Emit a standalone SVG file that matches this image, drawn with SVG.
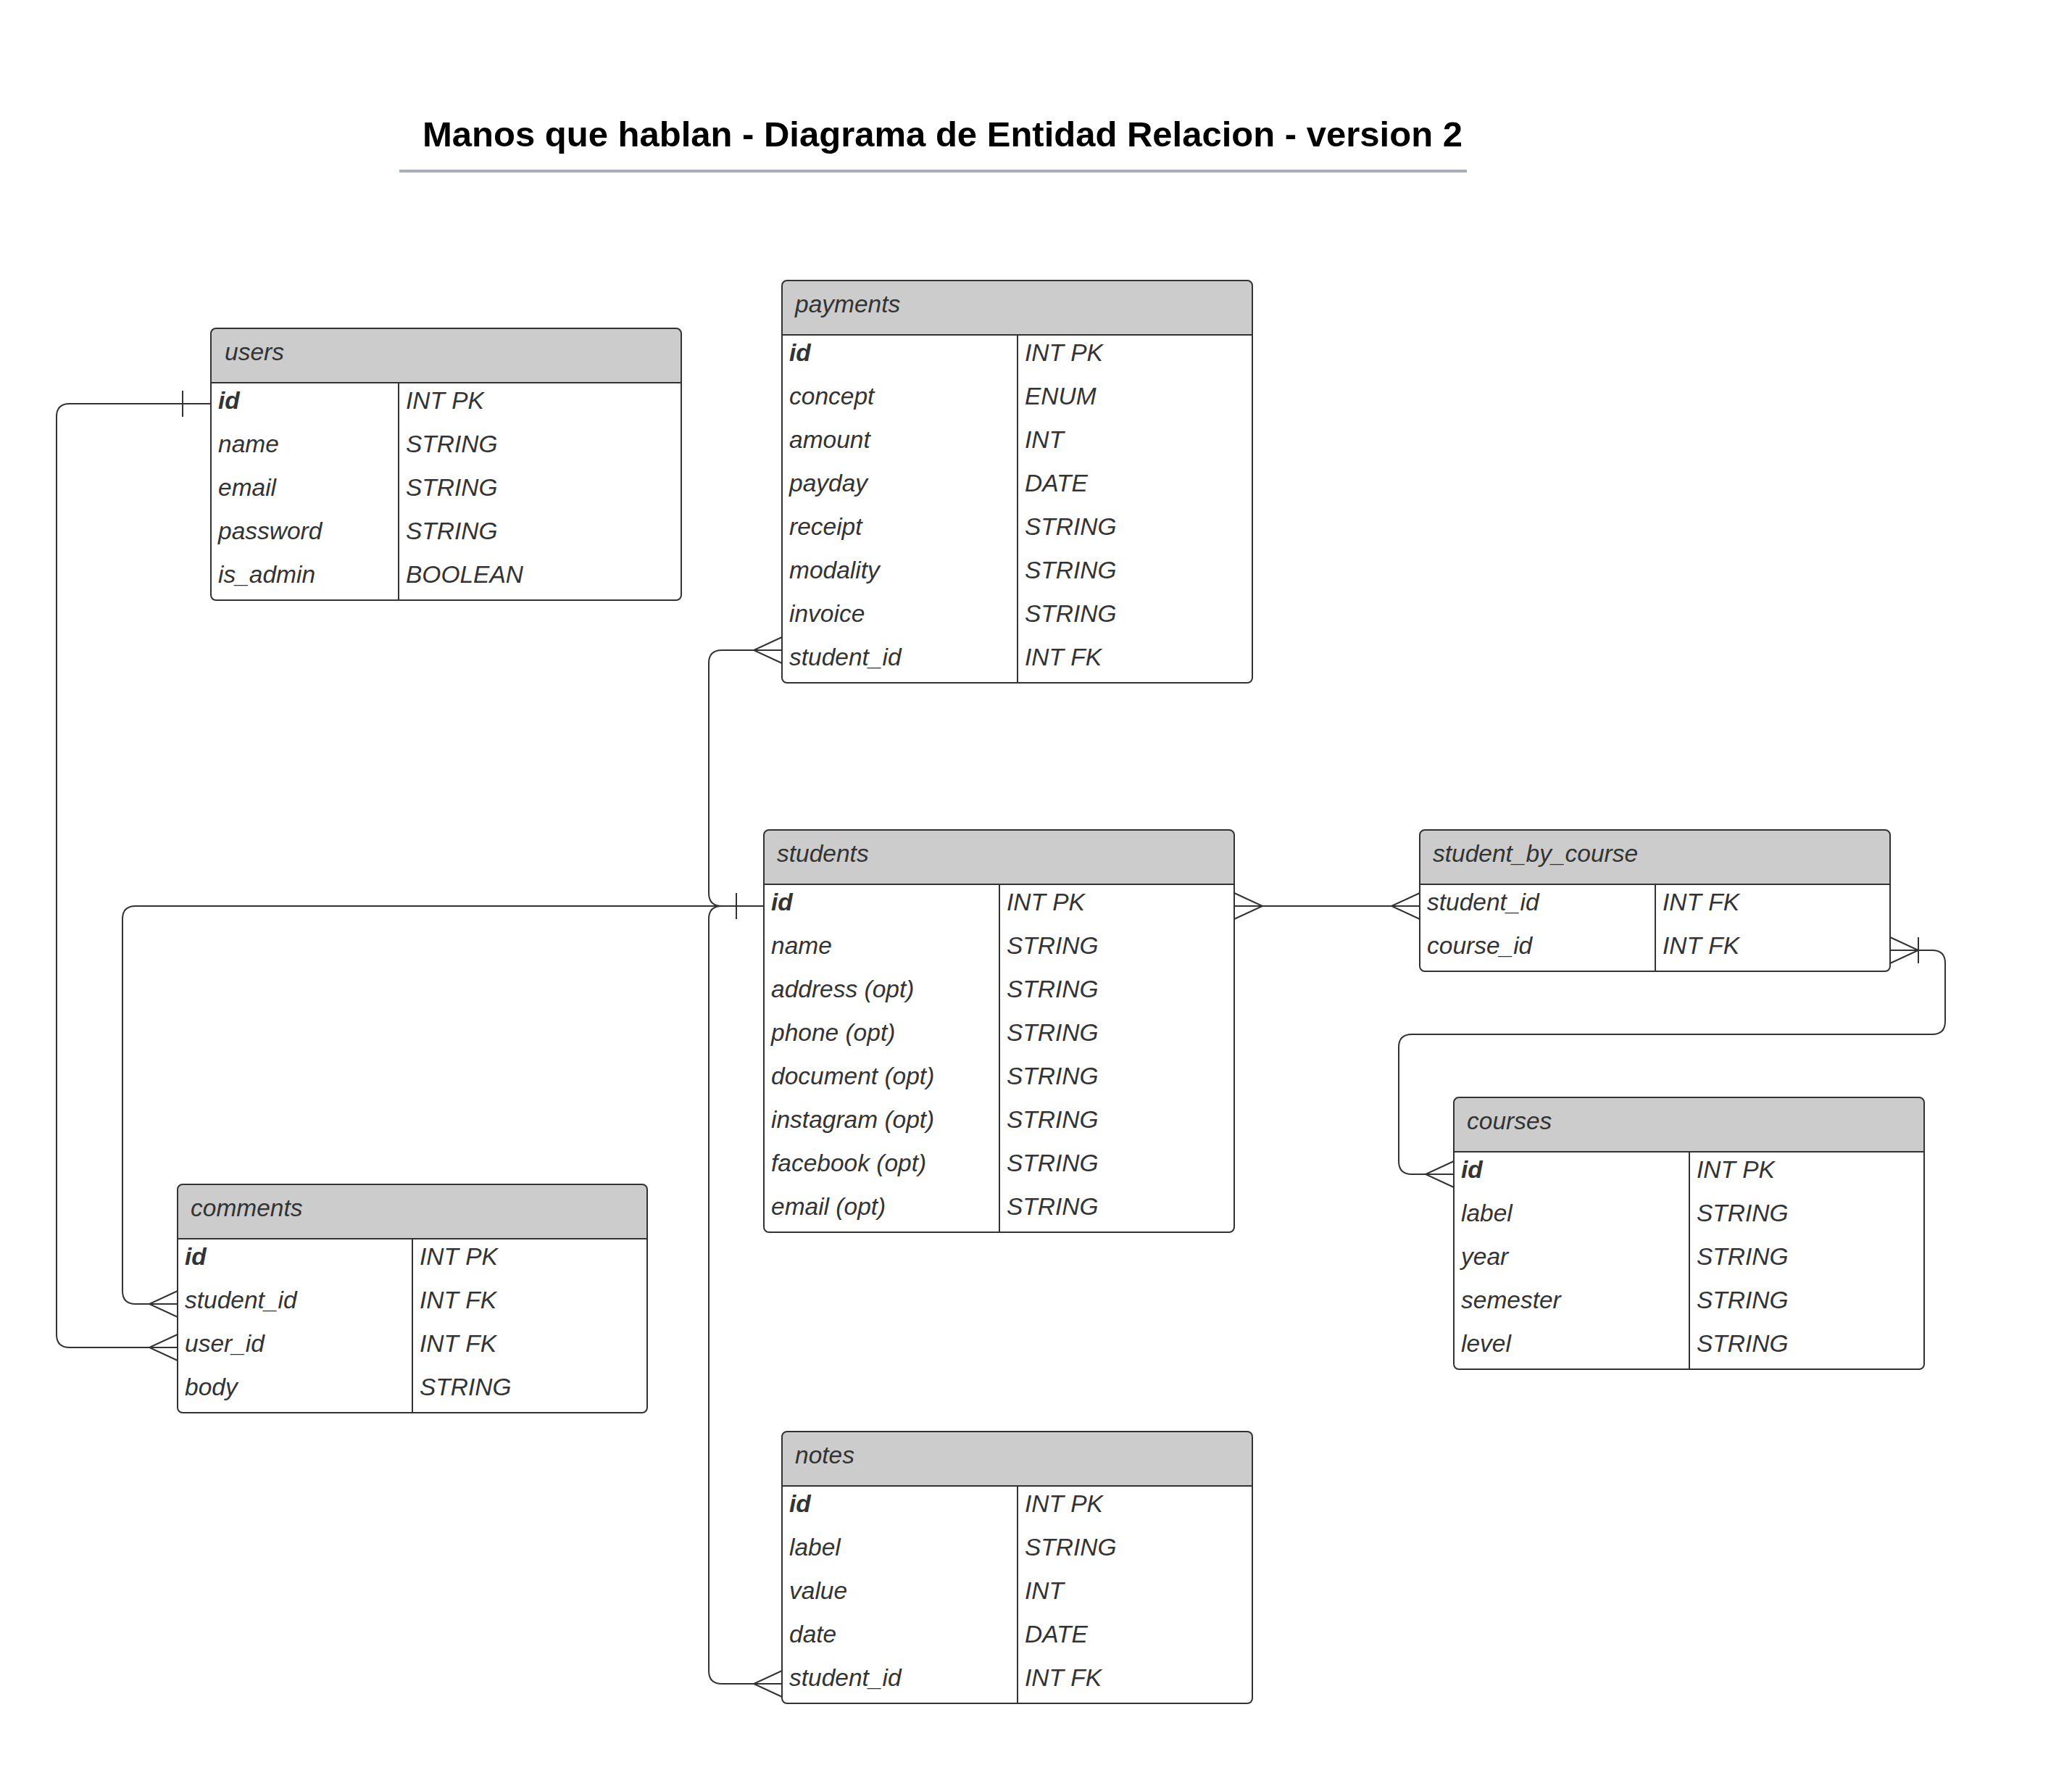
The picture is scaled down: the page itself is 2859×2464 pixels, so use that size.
<svg xmlns="http://www.w3.org/2000/svg" width="2859" height="2464" viewBox="0 0 2859 2464">
<style>
.box{fill:none;stroke:#333;stroke-width:2}
.hdr{fill:#ccc}
.sep{stroke:#333;stroke-width:2}
.t{font-family:"Liberation Sans",Arial,sans-serif;font-size:33.5px;font-style:italic;fill:#333}
.b{font-weight:bold}
.ln{fill:none;stroke:#333;stroke-width:2}
.title{font-family:"Liberation Sans",Arial,sans-serif;font-size:49px;font-weight:bold;fill:#000}
</style>
<rect x="0" y="0" width="2859" height="2464" fill="#fff"/>
<g id="title">
<text class="title" x="583" y="202">Manos que hablan - Diagrama de Entidad Relacion - version 2</text>
<line x1="551" y1="236" x2="2024" y2="236" stroke="#a9adb9" stroke-width="4"/>
</g>

<g id="users">
<rect x="291" y="453" width="649" height="375" rx="7" fill="#fff"/>
<path class="hdr" d="M291 528V460Q291 453 298 453H933Q940 453 940 460V528Z"/>
<rect class="box" x="291" y="453" width="649" height="375" rx="7"/>
<line class="sep" x1="291" y1="528" x2="940" y2="528"/>
<line class="sep" x1="550" y1="528" x2="550" y2="828"/>
<text class="t" x="310" y="497">users</text>
<text class="t b" x="301" y="564">id</text><text class="t" x="560" y="564">INT PK</text>
<text class="t" x="301" y="624">name</text><text class="t" x="560" y="624">STRING</text>
<text class="t" x="301" y="684">email</text><text class="t" x="560" y="684">STRING</text>
<text class="t" x="301" y="744">password</text><text class="t" x="560" y="744">STRING</text>
<text class="t" x="301" y="804">is_admin</text><text class="t" x="560" y="804">BOOLEAN</text>
</g>

<g id="payments">
<rect x="1079" y="387" width="649" height="555" rx="7" fill="#fff"/>
<path class="hdr" d="M1079 462V394Q1079 387 1086 387H1721Q1728 387 1728 394V462Z"/>
<rect class="box" x="1079" y="387" width="649" height="555" rx="7"/>
<line class="sep" x1="1079" y1="462" x2="1728" y2="462"/>
<line class="sep" x1="1404" y1="462" x2="1404" y2="942"/>
<text class="t" x="1097" y="431">payments</text>
<text class="t b" x="1089" y="498">id</text><text class="t" x="1414" y="498">INT PK</text>
<text class="t" x="1089" y="558">concept</text><text class="t" x="1414" y="558">ENUM</text>
<text class="t" x="1089" y="618">amount</text><text class="t" x="1414" y="618">INT</text>
<text class="t" x="1089" y="678">payday</text><text class="t" x="1414" y="678">DATE</text>
<text class="t" x="1089" y="738">receipt</text><text class="t" x="1414" y="738">STRING</text>
<text class="t" x="1089" y="798">modality</text><text class="t" x="1414" y="798">STRING</text>
<text class="t" x="1089" y="858">invoice</text><text class="t" x="1414" y="858">STRING</text>
<text class="t" x="1089" y="918">student_id</text><text class="t" x="1414" y="918">INT FK</text>
</g>

<g id="students">
<rect x="1054" y="1145" width="649" height="555" rx="7" fill="#fff"/>
<path class="hdr" d="M1054 1220V1152Q1054 1145 1061 1145H1696Q1703 1145 1703 1152V1220Z"/>
<rect class="box" x="1054" y="1145" width="649" height="555" rx="7"/>
<line class="sep" x1="1054" y1="1220" x2="1703" y2="1220"/>
<line class="sep" x1="1379" y1="1220" x2="1379" y2="1700"/>
<text class="t" x="1072" y="1189">students</text>
<text class="t b" x="1064" y="1256">id</text><text class="t" x="1389" y="1256">INT PK</text>
<text class="t" x="1064" y="1316">name</text><text class="t" x="1389" y="1316">STRING</text>
<text class="t" x="1064" y="1376">address (opt)</text><text class="t" x="1389" y="1376">STRING</text>
<text class="t" x="1064" y="1436">phone (opt)</text><text class="t" x="1389" y="1436">STRING</text>
<text class="t" x="1064" y="1496">document (opt)</text><text class="t" x="1389" y="1496">STRING</text>
<text class="t" x="1064" y="1556">instagram (opt)</text><text class="t" x="1389" y="1556">STRING</text>
<text class="t" x="1064" y="1616">facebook (opt)</text><text class="t" x="1389" y="1616">STRING</text>
<text class="t" x="1064" y="1676">email (opt)</text><text class="t" x="1389" y="1676">STRING</text>
</g>

<g id="student_by_course">
<rect x="1959" y="1145" width="649" height="195" rx="7" fill="#fff"/>
<path class="hdr" d="M1959 1220V1152Q1959 1145 1966 1145H2601Q2608 1145 2608 1152V1220Z"/>
<rect class="box" x="1959" y="1145" width="649" height="195" rx="7"/>
<line class="sep" x1="1959" y1="1220" x2="2608" y2="1220"/>
<line class="sep" x1="2284" y1="1220" x2="2284" y2="1340"/>
<text class="t" x="1977" y="1189">student_by_course</text>
<text class="t" x="1969" y="1256">student_id</text><text class="t" x="2294" y="1256">INT FK</text>
<text class="t" x="1969" y="1316">course_id</text><text class="t" x="2294" y="1316">INT FK</text>
</g>

<g id="courses">
<rect x="2006" y="1514" width="649" height="375" rx="7" fill="#fff"/>
<path class="hdr" d="M2006 1589V1521Q2006 1514 2013 1514H2648Q2655 1514 2655 1521V1589Z"/>
<rect class="box" x="2006" y="1514" width="649" height="375" rx="7"/>
<line class="sep" x1="2006" y1="1589" x2="2655" y2="1589"/>
<line class="sep" x1="2331" y1="1589" x2="2331" y2="1889"/>
<text class="t" x="2024" y="1558">courses</text>
<text class="t b" x="2016" y="1625">id</text><text class="t" x="2341" y="1625">INT PK</text>
<text class="t" x="2016" y="1685">label</text><text class="t" x="2341" y="1685">STRING</text>
<text class="t" x="2016" y="1745">year</text><text class="t" x="2341" y="1745">STRING</text>
<text class="t" x="2016" y="1805">semester</text><text class="t" x="2341" y="1805">STRING</text>
<text class="t" x="2016" y="1865">level</text><text class="t" x="2341" y="1865">STRING</text>
</g>

<g id="comments">
<rect x="245" y="1634" width="648" height="315" rx="7" fill="#fff"/>
<path class="hdr" d="M245 1709V1641Q245 1634 252 1634H886Q893 1634 893 1641V1709Z"/>
<rect class="box" x="245" y="1634" width="648" height="315" rx="7"/>
<line class="sep" x1="245" y1="1709" x2="893" y2="1709"/>
<line class="sep" x1="569" y1="1709" x2="569" y2="1949"/>
<text class="t" x="263" y="1678">comments</text>
<text class="t b" x="255" y="1745">id</text><text class="t" x="579" y="1745">INT PK</text>
<text class="t" x="255" y="1805">student_id</text><text class="t" x="579" y="1805">INT FK</text>
<text class="t" x="255" y="1865">user_id</text><text class="t" x="579" y="1865">INT FK</text>
<text class="t" x="255" y="1925">body</text><text class="t" x="579" y="1925">STRING</text>
</g>

<g id="notes">
<rect x="1079" y="1975" width="649" height="375" rx="7" fill="#fff"/>
<path class="hdr" d="M1079 2050V1982Q1079 1975 1086 1975H1721Q1728 1975 1728 1982V2050Z"/>
<rect class="box" x="1079" y="1975" width="649" height="375" rx="7"/>
<line class="sep" x1="1079" y1="2050" x2="1728" y2="2050"/>
<line class="sep" x1="1404" y1="2050" x2="1404" y2="2350"/>
<text class="t" x="1097" y="2019">notes</text>
<text class="t b" x="1089" y="2086">id</text><text class="t" x="1414" y="2086">INT PK</text>
<text class="t" x="1089" y="2146">label</text><text class="t" x="1414" y="2146">STRING</text>
<text class="t" x="1089" y="2206">value</text><text class="t" x="1414" y="2206">INT</text>
<text class="t" x="1089" y="2266">date</text><text class="t" x="1414" y="2266">DATE</text>
<text class="t" x="1089" y="2326">student_id</text><text class="t" x="1414" y="2326">INT FK</text>
</g>

<g id="connectors">
<!-- users.id - comments.user_id -->
<path class="ln" d="M291 557H96Q78 557 78 575V1841Q78 1859 96 1859H245"/>
<path class="ln" d="M252 539V575"/>
<path class="ln" d="M245 1841L206 1859L245 1877"/>
<!-- students.id - comments.student_id -->
<path class="ln" d="M1054 1250H187Q169 1250 169 1268V1781Q169 1799 187 1799H245"/>
<path class="ln" d="M245 1781L206 1799L245 1817"/>
<path class="ln" d="M1016 1232V1268"/>
<!-- students.id - payments.student_id -->
<path class="ln" d="M1079 897H996Q978 897 978 915V1232Q978 1250 996 1250H1054"/>
<path class="ln" d="M1079 879L1040 897L1079 915"/>
<!-- students.id - notes.student_id -->
<path class="ln" d="M1054 1250H996Q978 1250 978 1268V2305Q978 2323 996 2323H1079"/>
<path class="ln" d="M1079 2305L1040 2323L1079 2341"/>
<!-- students.id - student_by_course.student_id -->
<path class="ln" d="M1703 1250H1959"/>
<path class="ln" d="M1703 1232L1742 1250L1703 1268"/>
<path class="ln" d="M1959 1232L1920 1250L1959 1268"/>
<!-- student_by_course.course_id - courses.id -->
<path class="ln" d="M2608 1311H2666Q2684 1311 2684 1329V1409Q2684 1427 2666 1427H1948Q1930 1427 1930 1445V1602Q1930 1620 1948 1620H2006"/>
<path class="ln" d="M2608 1293L2647 1311L2608 1329"/>
<path class="ln" d="M2647 1293V1329"/>
<path class="ln" d="M2006 1602L1967 1620L2006 1638"/>
</g>
</svg>
